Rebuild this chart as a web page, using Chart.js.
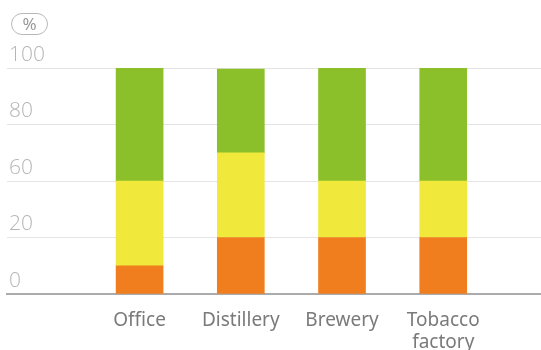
<!DOCTYPE html>
<html>
<head>
<meta charset="utf-8">
<script src="https://cdn.jsdelivr.net/npm/chart.js@4/dist/chart.umd.min.js"></script>
<style>
  html, body { margin: 0; padding: 0; background: #fff; }
  #wrap { position: relative; width: 541px; height: 350px; }
  #unit {
    position: absolute; left: 11px; top: 13px; width: 35px; height: 20px;
    border: 1px solid #b8b8b8; border-radius: 11px; color: #999;
    font: 17px "Noto Sans", sans-serif; text-align: center; line-height: 20px;
  }
</style>
</head>
<body>
<div id="wrap">
  <canvas id="c" width="541" height="350"></canvas>
  <div id="unit">%</div>
</div>
<script>
// Plants shown along the bottom axis
const categories = ["Office", "Distillery", "Brewery", "Tobacco factory"];
// Labels printed on the value axis, one per grid step
const yTickLabels = ["0", "20", "60", "80", "100"];
// Segment heights in value-axis units (each grid step = 25)
const orangeValues = [12.5, 25, 25, 25];
const yellowValues = [37.5, 37.5, 25, 25];
const greenValues  = [50, 37, 50, 50];

const toPoints = vals => vals.map((v, i) => ({ x: i + 1, y: v }));

new Chart(document.getElementById("c"), {
  type: "bar",
  data: {
    datasets: [
      { data: toPoints(orangeValues), backgroundColor: "#F07E1F" },
      { data: toPoints(yellowValues), backgroundColor: "#F0E93B" },
      { data: toPoints(greenValues),  backgroundColor: "#8BC02A" }
    ]
  },
  options: {
    responsive: false,
    animation: false,
    layout: { padding: { left: 3, right: 0, top: 68, bottom: 0 } },
    datasets: { bar: { barThickness: 47 } },
    plugins: { legend: { display: false }, tooltip: { enabled: false } },
    scales: {
      x: {
        type: "linear",
        offset: false,
        stacked: true,
        min: -0.31,
        max: 4.966,
        grid: { display: false, offset: false },
        border: { display: true, color: "#ababab", width: 2 },
        afterFit: s => { s.height = 56; },
        afterBuildTicks: s => {
          s.ticks = s.ticks.filter(t => Number.isInteger(t.value) && t.value >= 1 && t.value <= categories.length);
        },
        ticks: {
          stepSize: 1,
          autoSkip: false,
          maxRotation: 0,
          padding: 7,
          color: "#7a7a7a",
          font: { family: "'Noto Sans', sans-serif", size: 19, lineHeight: 1.17 },
          callback: v => {
            const name = categories[v - 1];
            return name && name.includes(" ") ? name.split(" ") : name;
          }
        }
      },
      y: {
        stacked: true,
        min: 0,
        max: 100,
        border: { display: false },
        grid: { color: "#e4e4e4", lineWidth: 1, drawTicks: false },
        ticks: {
          stepSize: 25,
          mirror: true,
          padding: 2,
          labelOffset: -13,
          color: "#b6b6b6",
          font: { family: "'Open Sans', sans-serif", size: 21, weight: 300 },
          callback: (v, i) => yTickLabels[i]
        }
      }
    }
  }
});
</script>
</body>
</html>
